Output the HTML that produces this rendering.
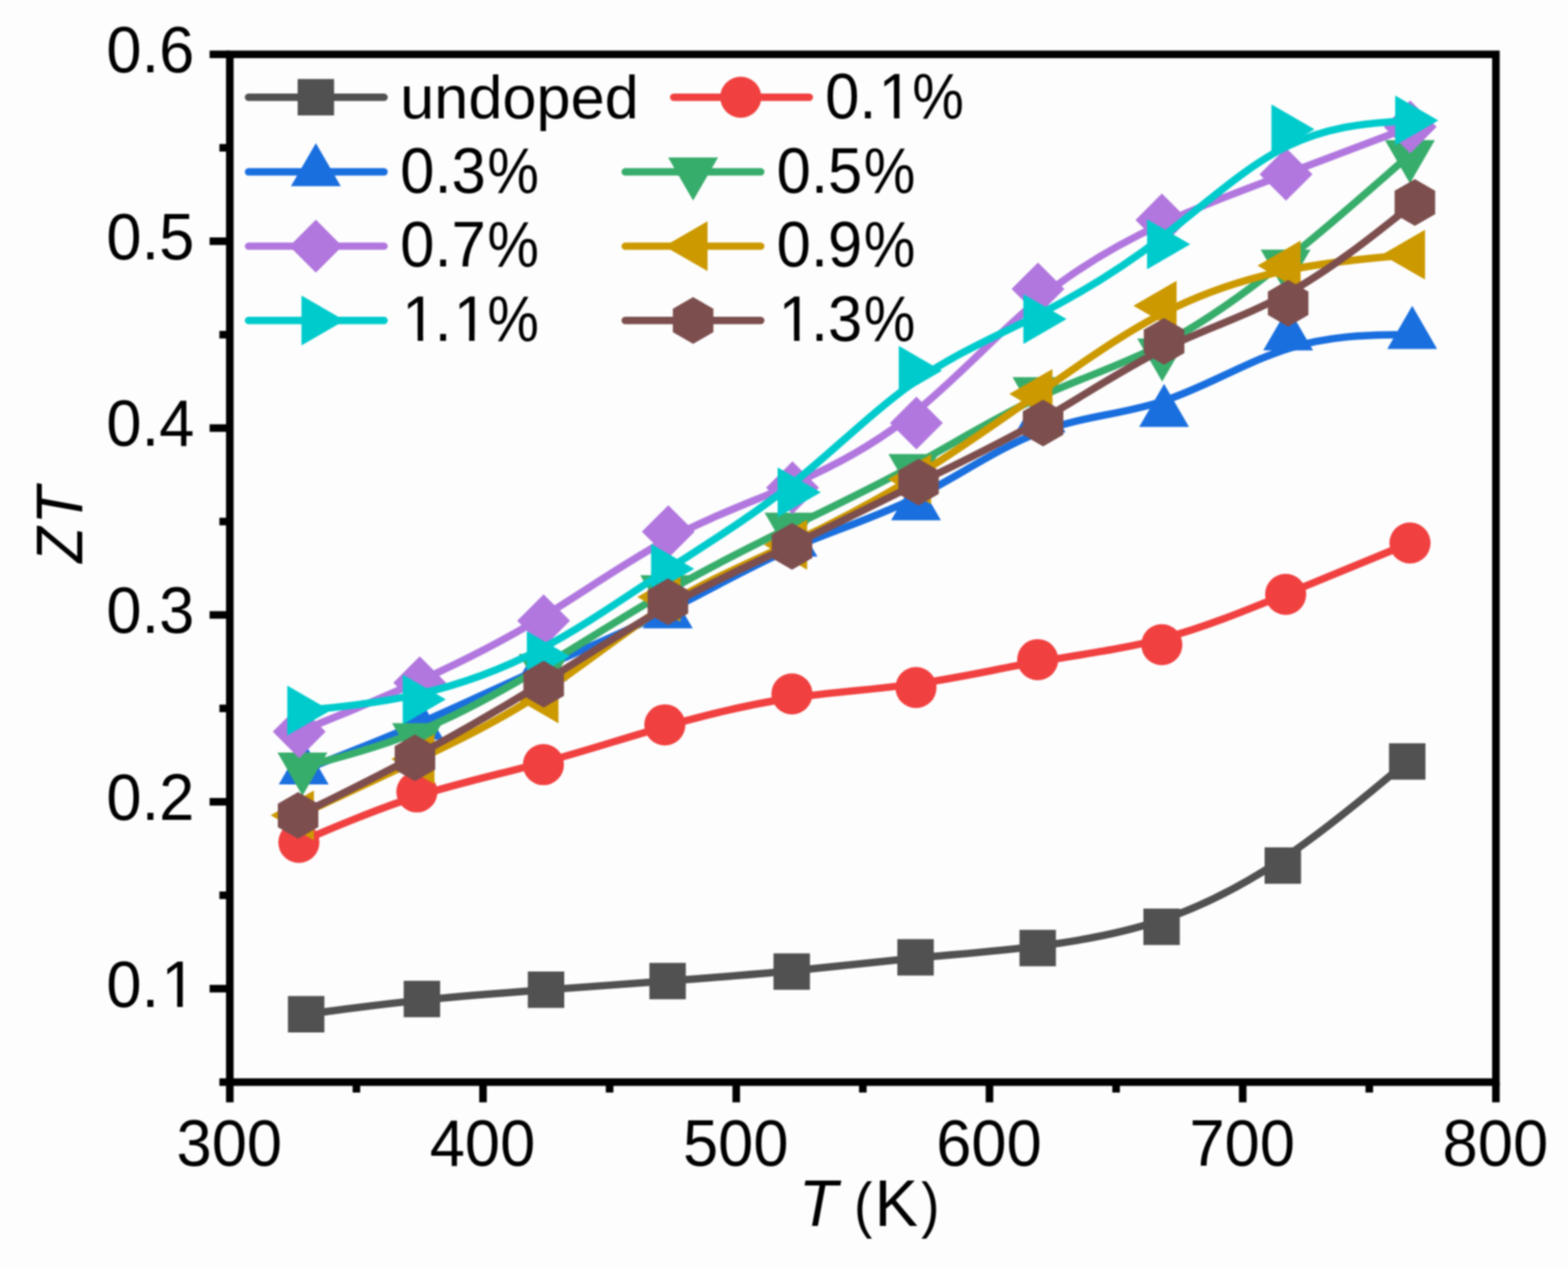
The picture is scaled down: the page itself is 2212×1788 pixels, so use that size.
<!DOCTYPE html>
<html lang="en">
<head>
<meta charset="utf-8">
<title>ZT versus T</title>
<style>
html,body{margin:0;padding:0;background:#fdfdfd;}
body{width:2212px;height:1788px;overflow:hidden;}
svg{display:block;filter:blur(0.8px);}
</style>
</head>
<body>
<svg xmlns="http://www.w3.org/2000/svg" width="2212" height="1788" viewBox="0 0 2212 1788">
<rect width="2212" height="1788" fill="#fdfdfd"/>
<g id="plot" fill="none" stroke-linecap="round" stroke-linejoin="round">
<g id="s-grey">
<path d="M431.90,1431.30C431.90,1431.30 431.90,1431.30 459.12,1427.72C486.33,1424.13 540.77,1416.97 597.17,1411.20C653.57,1405.43 711.93,1401.07 769.70,1396.85C827.47,1392.63 884.63,1388.57 942.40,1384.30C1000.17,1380.03 1058.53,1375.57 1116.83,1369.98C1175.13,1364.40 1233.37,1357.70 1291.20,1352.17C1349.03,1346.63 1406.47,1342.27 1464.32,1335.08C1522.17,1327.90 1580.43,1317.90 1638.07,1298.50C1695.70,1279.10 1752.70,1250.30 1810.45,1211.42C1868.20,1172.53 1926.70,1123.57 1955.95,1099.08C1985.20,1074.60 1985.20,1074.60 1985.20,1074.60" stroke="#515151" stroke-width="10.4"/>
<rect x="406.2" y="1405.6" width="51.4" height="51.4" fill="#515151"/>
<rect x="569.5" y="1384.1" width="51.4" height="51.4" fill="#515151"/>
<rect x="744.6" y="1371" width="51.4" height="51.4" fill="#515151"/>
<rect x="916.1" y="1358.8" width="51.4" height="51.4" fill="#515151"/>
<rect x="1091.2" y="1345.4" width="51.4" height="51.4" fill="#515151"/>
<rect x="1265.9" y="1325.3" width="51.4" height="51.4" fill="#515151"/>
<rect x="1438.2" y="1312.2" width="51.4" height="51.4" fill="#515151"/>
<rect x="1613" y="1282.2" width="51.4" height="51.4" fill="#515151"/>
<rect x="1784" y="1195.8" width="51.4" height="51.4" fill="#515151"/>
<rect x="1959.5" y="1048.9" width="51.4" height="51.4" fill="#515151"/>
</g>
<g id="s-red">
<path d="M421.60,1188.80C421.60,1188.80 421.60,1188.80 449.35,1176.93C477.10,1165.07 532.60,1141.33 590.10,1123.05C647.60,1104.77 707.10,1091.93 765.40,1076.15C823.70,1060.37 880.80,1041.63 939.23,1024.98C997.67,1008.33 1057.43,993.77 1116.48,985.00C1175.53,976.23 1233.87,973.27 1291.65,965.22C1349.43,957.17 1406.67,944.03 1464.47,933.95C1522.27,923.87 1580.63,916.83 1638.93,901.47C1697.23,886.10 1755.47,862.40 1813.82,838.48C1872.17,814.57 1930.63,790.43 1959.87,778.37C1989.10,766.30 1989.10,766.30 1989.10,766.30" stroke="#F14040" stroke-width="10.4"/>
<circle cx="421.6" cy="1188.8" r="29" fill="#F14040"/>
<circle cx="588.1" cy="1117.6" r="29" fill="#F14040"/>
<circle cx="766.6" cy="1079.1" r="29" fill="#F14040"/>
<circle cx="937.9" cy="1022.9" r="29" fill="#F14040"/>
<circle cx="1117.2" cy="979.2" r="29" fill="#F14040"/>
<circle cx="1292.2" cy="970.3" r="29" fill="#F14040"/>
<circle cx="1463.9" cy="930.9" r="29" fill="#F14040"/>
<circle cx="1639" cy="909.8" r="29" fill="#F14040"/>
<circle cx="1813.7" cy="838.7" r="29" fill="#F14040"/>
<circle cx="1989.1" cy="766.3" r="29" fill="#F14040"/>
</g>
<g id="s-blue">
<path d="M428.40,1086.60C428.40,1086.60 428.40,1086.60 455.43,1076.08C482.47,1065.57 536.53,1044.53 592.68,1020.17C648.83,995.80 707.07,968.10 765.65,941.93C824.23,915.77 883.17,891.13 941.95,861.93C1000.73,832.73 1059.37,798.97 1117.72,773.55C1176.07,748.13 1234.13,731.07 1292.47,701.87C1350.80,672.67 1409.40,631.33 1467.73,609.38C1526.07,587.43 1584.13,584.87 1642.33,565.58C1700.53,546.30 1758.87,510.30 1817.20,491.93C1875.53,473.57 1933.87,472.83 1963.03,472.47C1992.20,472.10 1992.20,472.10 1992.20,472.10" stroke="#1A6FDF" stroke-width="10.4"/>
<polygon points="428.4,1046 463.6,1106.9 393.2,1106.9" fill="#1A6FDF"/>
<polygon points="590.6,982.9 625.8,1043.8 555.4,1043.8" fill="#1A6FDF"/>
<polygon points="765.3,899.8 800.5,960.7 730.1,960.7" fill="#1A6FDF"/>
<polygon points="942.1,825.9 977.3,886.8 906.9,886.8" fill="#1A6FDF"/>
<polygon points="1118,724.6 1153.2,785.5 1082.8,785.5" fill="#1A6FDF"/>
<polygon points="1292.2,673.4 1327.4,734.3 1257,734.3" fill="#1A6FDF"/>
<polygon points="1468,549.4 1503.2,610.3 1432.8,610.3" fill="#1A6FDF"/>
<polygon points="1642.2,541.7 1677.4,602.6 1607,602.6" fill="#1A6FDF"/>
<polygon points="1817.2,433.7 1852.4,494.6 1782,494.6" fill="#1A6FDF"/>
<polygon points="1992.2,431.5 2027.4,492.4 1957,492.4" fill="#1A6FDF"/>
</g>
<g id="s-green">
<path d="M426.70,1082.30C426.70,1082.30 426.70,1082.30 453.63,1075.40C480.57,1068.50 534.43,1054.70 591.15,1031.48C647.87,1008.27 707.43,975.63 765.78,940.82C824.13,906.00 881.27,869.00 939.07,835.80C996.87,802.60 1055.33,773.20 1113.68,744.70C1172.03,716.20 1230.27,688.60 1288.57,656.72C1346.87,624.83 1405.23,588.67 1463.73,561.50C1522.23,534.33 1580.87,516.17 1639.20,486.17C1697.53,456.17 1755.57,414.33 1813.82,367.68C1872.07,321.03 1930.53,269.57 1959.77,243.83C1989.00,218.10 1989.00,218.10 1989.00,218.10" stroke="#37AD6B" stroke-width="10.4"/>
<polygon points="426.7,1122.9 391.5,1062 461.9,1062" fill="#37AD6B"/>
<polygon points="588.3,1081.5 553.1,1020.6 623.5,1020.6" fill="#37AD6B"/>
<polygon points="767,983.6 731.8,922.7 802.2,922.7" fill="#37AD6B"/>
<polygon points="938.4,872.6 903.2,811.7 973.6,811.7" fill="#37AD6B"/>
<polygon points="1113.8,784.4 1078.6,723.5 1149,723.5" fill="#37AD6B"/>
<polygon points="1288.5,701.6 1253.3,640.7 1323.7,640.7" fill="#37AD6B"/>
<polygon points="1463.6,593.1 1428.4,532.2 1498.8,532.2" fill="#37AD6B"/>
<polygon points="1639.5,538.6 1604.3,477.7 1674.7,477.7" fill="#37AD6B"/>
<polygon points="1813.6,413.1 1778.4,352.2 1848.8,352.2" fill="#37AD6B"/>
<polygon points="1989,258.7 1953.8,197.8 2024.2,197.8" fill="#37AD6B"/>
</g>
<g id="s-purple">
<path d="M422.10,1032.60C422.10,1032.60 422.10,1032.60 450.43,1021.08C478.77,1009.57 535.43,986.53 592.90,960.45C650.37,934.37 708.63,905.23 767.08,869.68C825.53,834.13 884.17,792.17 942.68,760.87C1001.20,729.57 1059.60,708.93 1117.93,683.40C1176.27,657.87 1234.53,627.43 1292.25,580.67C1349.97,533.90 1407.13,470.80 1464.85,423.03C1522.57,375.27 1580.83,342.83 1639.15,315.88C1697.47,288.93 1755.83,267.47 1814.22,245.58C1872.60,223.70 1931.00,201.40 1960.20,190.25C1989.40,179.10 1989.40,179.10 1989.40,179.10" stroke="#B177DE" stroke-width="10.4"/>
<polygon points="422.1,995.3 459.4,1032.6 422.1,1069.9 384.8,1032.6" fill="#B177DE"/>
<polygon points="592.1,926.2 629.4,963.5 592.1,1000.8 554.8,963.5" fill="#B177DE"/>
<polygon points="766.9,838.8 804.2,876.1 766.9,913.4 729.6,876.1" fill="#B177DE"/>
<polygon points="942.8,712.9 980.1,750.2 942.8,787.5 905.5,750.2" fill="#B177DE"/>
<polygon points="1118,651 1155.3,688.3 1118,725.6 1080.7,688.3" fill="#B177DE"/>
<polygon points="1292.8,559.7 1330.1,597 1292.8,634.3 1255.5,597" fill="#B177DE"/>
<polygon points="1464.3,370.4 1501.6,407.7 1464.3,445 1427,407.7" fill="#B177DE"/>
<polygon points="1639.1,273.1 1676.4,310.4 1639.1,347.7 1601.8,310.4" fill="#B177DE"/>
<polygon points="1814.2,208.7 1851.5,246 1814.2,283.3 1776.9,246" fill="#B177DE"/>
<polygon points="1989.4,141.8 2026.7,179.1 1989.4,216.4 1952.1,179.1" fill="#B177DE"/>
</g>
<g id="s-gold">
<path d="M422.50,1150.60C422.50,1150.60 422.50,1150.60 450.85,1137.38C479.20,1124.17 535.90,1097.73 593.40,1070.22C650.90,1042.70 709.20,1014.10 767.03,975.95C824.87,937.80 882.23,890.10 940.70,853.97C999.17,817.83 1058.73,793.27 1117.67,765.57C1176.60,737.87 1234.90,707.03 1292.58,671.58C1350.27,636.13 1407.33,596.07 1465.05,555.27C1522.77,514.47 1581.13,472.93 1639.48,442.73C1697.83,412.53 1756.17,393.67 1814.58,381.67C1873.00,369.67 1931.50,364.53 1960.75,361.97C1990.00,359.40 1990.00,359.40 1990.00,359.40" stroke="#CC9900" stroke-width="10.4"/>
<polygon points="381.9,1150.6 442.8,1115.4 442.8,1185.8" fill="#CC9900"/>
<polygon points="552,1071.3 612.9,1036.1 612.9,1106.5" fill="#CC9900"/>
<polygon points="726.9,985.5 787.8,950.3 787.8,1020.7" fill="#CC9900"/>
<polygon points="899,842.4 959.9,807.2 959.9,877.6" fill="#CC9900"/>
<polygon points="1077.7,768.7 1138.6,733.5 1138.6,803.9" fill="#CC9900"/>
<polygon points="1252.6,676.2 1313.5,641 1313.5,711.4" fill="#CC9900"/>
<polygon points="1423.8,556 1484.7,520.8 1484.7,591.2" fill="#CC9900"/>
<polygon points="1598.9,431.4 1659.8,396.2 1659.8,466.6" fill="#CC9900"/>
<polygon points="1773.9,374.8 1834.8,339.6 1834.8,410" fill="#CC9900"/>
<polygon points="1949.4,359.4 2010.3,324.2 2010.3,394.6" fill="#CC9900"/>
</g>
<g id="s-cyan">
<path d="M425.60,1002.70C425.60,1002.70 425.60,1002.70 452.73,1000.10C479.87,997.50 534.13,992.30 590.45,979.52C646.77,966.73 705.13,946.37 763.53,915.63C821.93,884.90 880.37,843.80 939.33,805.25C998.30,766.70 1057.80,730.70 1116.03,684.13C1174.27,637.57 1231.23,580.43 1289.02,539.70C1346.80,498.97 1405.40,474.63 1463.78,444.87C1522.17,415.10 1580.33,379.90 1638.65,335.27C1696.97,290.63 1755.43,236.57 1813.77,207.45C1872.10,178.33 1930.30,174.17 1959.40,172.08C1988.50,170.00 1988.50,170.00 1988.50,170.00" stroke="#00CBCC" stroke-width="10.4"/>
<polygon points="466.2,1002.7 405.3,1037.9 405.3,967.5" fill="#00CBCC"/>
<polygon points="629,987.1 568.1,1022.3 568.1,951.9" fill="#00CBCC"/>
<polygon points="804.1,926 743.2,961.2 743.2,890.8" fill="#00CBCC"/>
<polygon points="979.4,802.7 918.5,837.9 918.5,767.5" fill="#00CBCC"/>
<polygon points="1157.9,694.7 1097,729.9 1097,659.5" fill="#00CBCC"/>
<polygon points="1328.8,523.3 1267.9,558.5 1267.9,488.1" fill="#00CBCC"/>
<polygon points="1504.6,450.3 1443.7,485.5 1443.7,415.1" fill="#00CBCC"/>
<polygon points="1679.1,344.7 1618.2,379.9 1618.2,309.5" fill="#00CBCC"/>
<polygon points="1854.5,182.5 1793.6,217.7 1793.6,147.3" fill="#00CBCC"/>
<polygon points="2029.1,170 1968.2,205.2 1968.2,134.8" fill="#00CBCC"/>
</g>
<g id="s-brown">
<path d="M420.50,1150.80C420.50,1150.80 420.50,1150.80 447.98,1137.25C475.47,1123.70 530.43,1096.60 588.18,1065.72C645.93,1034.83 706.47,1000.17 765.93,963.45C825.40,926.73 883.80,887.97 942.18,855.53C1000.57,823.10 1058.93,797.00 1117.87,768.90C1176.80,740.80 1236.30,710.70 1295.33,681.70C1354.37,652.70 1412.93,624.80 1470.67,591.65C1528.40,558.50 1585.30,520.10 1642.92,491.95C1700.53,463.80 1758.87,445.90 1817.83,413.23C1876.80,380.57 1936.40,333.13 1966.20,309.42C1996.00,285.70 1996.00,285.70 1996.00,285.70" stroke="#7D4E4E" stroke-width="10.4"/>
<polygon points="420.5,1117.8 449.1,1134.3 449.1,1167.3 420.5,1183.8 391.9,1167.3 391.9,1134.3" fill="#7D4E4E"/>
<polygon points="585.4,1036.5 614,1053 614,1086 585.4,1102.5 556.8,1086 556.8,1053" fill="#7D4E4E"/>
<polygon points="767,932.5 795.6,949 795.6,982 767,998.5 738.4,982 738.4,949" fill="#7D4E4E"/>
<polygon points="942.2,816.2 970.8,832.7 970.8,865.7 942.2,882.2 913.6,865.7 913.6,832.7" fill="#7D4E4E"/>
<polygon points="1117.3,737.9 1145.9,754.4 1145.9,787.4 1117.3,803.9 1088.7,787.4 1088.7,754.4" fill="#7D4E4E"/>
<polygon points="1295.8,647.6 1324.4,664.1 1324.4,697.1 1295.8,713.6 1267.2,697.1 1267.2,664.1" fill="#7D4E4E"/>
<polygon points="1471.5,563.9 1500.1,580.4 1500.1,613.4 1471.5,629.9 1442.9,613.4 1442.9,580.4" fill="#7D4E4E"/>
<polygon points="1642.2,448.7 1670.8,465.2 1670.8,498.2 1642.2,514.7 1613.6,498.2 1613.6,465.2" fill="#7D4E4E"/>
<polygon points="1817.2,395 1845.8,411.5 1845.8,444.5 1817.2,461 1788.6,444.5 1788.6,411.5" fill="#7D4E4E"/>
<polygon points="1996,252.7 2024.6,269.2 2024.6,302.2 1996,318.7 1967.4,302.2 1967.4,269.2" fill="#7D4E4E"/>
</g>
</g>
<g id="axes" stroke="#000" stroke-width="10.7" fill="none" stroke-linecap="butt">
<rect x="324.2" y="76.7" width="1786.1" height="1450.4"/>
<path d="M309.5,1527.1 H324.2"/>
<path d="M295.7,1395.2 H324.2"/>
<path d="M309.5,1263.4 H324.2"/>
<path d="M295.7,1131.5 H324.2"/>
<path d="M309.5,999.7 H324.2"/>
<path d="M295.7,867.8 H324.2"/>
<path d="M309.5,736 H324.2"/>
<path d="M295.7,604.1 H324.2"/>
<path d="M309.5,472.3 H324.2"/>
<path d="M295.7,340.4 H324.2"/>
<path d="M309.5,208.6 H324.2"/>
<path d="M295.7,76.7 H324.2"/>
<path d="M324.2,1527.1 V1555.6"/>
<path d="M502.8,1527.1 V1541.8"/>
<path d="M681.4,1527.1 V1555.6"/>
<path d="M860,1527.1 V1541.8"/>
<path d="M1038.6,1527.1 V1555.6"/>
<path d="M1217.2,1527.1 V1541.8"/>
<path d="M1395.9,1527.1 V1555.6"/>
<path d="M1574.5,1527.1 V1541.8"/>
<path d="M1753.1,1527.1 V1555.6"/>
<path d="M1931.7,1527.1 V1541.8"/>
<path d="M2110.3,1527.1 V1555.6"/>
</g>
<g id="labels" font-family='"Liberation Sans", sans-serif' font-size="89.3" fill="#000">
<text transform="translate(150.1 1420.5) scale(1.0000 1.0450)">0.</text>
<text transform="translate(227.5 1420.5) scale(1.0000 1.0400)">1</text>
<rect x="232.47" y="1412.61" width="17.44" height="9.44" fill="#fdfdfd"/>
<rect x="257.81" y="1412.61" width="16.74" height="9.44" fill="#fdfdfd"/>
<text transform="translate(150.1 1156.8) scale(1.0000 1.0450)">0.2</text>
<text transform="translate(150.1 893.1) scale(1.0000 1.0450)">0.3</text>
<text transform="translate(150.1 629.4) scale(1.0000 1.0450)">0.4</text>
<text transform="translate(150.1 365.7) scale(1.0000 1.0450)">0.5</text>
<text transform="translate(150.1 102) scale(1.0000 1.0450)">0.6</text>
<text transform="translate(249 1644.7) scale(1.0000 1.0450)">300</text>
<text transform="translate(606.2 1644.7) scale(1.0000 1.0450)">400</text>
<text transform="translate(963.4 1644.7) scale(1.0000 1.0450)">500</text>
<text transform="translate(1320.7 1644.7) scale(1.0000 1.0450)">600</text>
<text transform="translate(1677.9 1644.7) scale(1.0000 1.0450)">700</text>
<text transform="translate(2035.1 1644.7) scale(1.0000 1.0450)">800</text>
<text transform="translate(1127 1729.5) scale(1.0000 1.0400)" font-style="italic">T</text>
<text transform="translate(1204.7 1729.5) scale(0.8700 0.9680)">(</text>
<text transform="translate(1233.8 1729.5) scale(1.0300 1.0400)">K</text>
<text transform="translate(1299.6 1729.5) scale(0.8700 0.9680)">)</text>
<text transform="translate(115.7 794.2) rotate(-90) scale(0.9230 1.0400)" font-style="italic">Z</text>
<text transform="translate(115.7 740) rotate(-90) scale(0.9730 1.0400)" font-style="italic">T</text>
</g>
<g id="legend" font-family='"Liberation Sans", sans-serif' font-size="87" fill="#000" stroke-linecap="round">
<path d="M350.6,137.2 H541.8" stroke="#515151" stroke-width="10.4" fill="none"/>
<rect x="419.9" y="111.5" width="51.4" height="51.4" fill="#515151"/>
<text transform="translate(564.5 166.8) scale(0.9940 0.9850)">undoped</text>
<path d="M350.6,242.5 H541.8" stroke="#1A6FDF" stroke-width="10.4" fill="none"/>
<polygon points="445.6,201.9 480.8,262.8 410.4,262.8" fill="#1A6FDF"/>
<text transform="translate(564.5 271.9) scale(1.0000 1.0450)">0.3</text>
<text transform="translate(687.6 271.9) scale(0.9410 1.0450)">%</text>
<path d="M350.6,347.4 H541.8" stroke="#B177DE" stroke-width="10.4" fill="none"/>
<polygon points="445.6,310.1 482.9,347.4 445.6,384.7 408.3,347.4" fill="#B177DE"/>
<text transform="translate(564.5 376.4) scale(1.0000 1.0450)">0.7</text>
<text transform="translate(687.6 376.4) scale(0.9410 1.0450)">%</text>
<path d="M350.6,452.3 H541.8" stroke="#00CBCC" stroke-width="10.4" fill="none"/>
<polygon points="486.2,452.3 425.3,487.5 425.3,417.1" fill="#00CBCC"/>
<text transform="translate(567.3 480.9) scale(1.0000 1.0400)">1</text>
<text transform="translate(612.9 480.9) scale(1.0000 1.0450)">.</text>
<text transform="translate(639.9 480.9) scale(1.0000 1.0400)">1</text>
<text transform="translate(687.6 480.9) scale(0.9410 1.0450)">%</text>
<rect x="572.23" y="473.14" width="16.99" height="9.26" fill="#fdfdfd"/>
<rect x="596.91" y="473.14" width="16.31" height="9.26" fill="#fdfdfd"/>
<rect x="644.79" y="473.14" width="16.99" height="9.26" fill="#fdfdfd"/>
<rect x="669.47" y="473.14" width="16.31" height="9.26" fill="#fdfdfd"/>
<path d="M950.4,137.2 H1141.7" stroke="#F14040" stroke-width="10.4" fill="none"/>
<circle cx="1045" cy="137.2" r="29" fill="#F14040"/>
<text transform="translate(1163.9 167.4) scale(1.0000 1.0450)">0.</text>
<text transform="translate(1239.3 167.4) scale(1.0000 1.0400)">1</text>
<text transform="translate(1287 167.4) scale(0.9410 1.0450)">%</text>
<rect x="1244.19" y="159.64" width="16.99" height="9.26" fill="#fdfdfd"/>
<rect x="1268.87" y="159.64" width="16.31" height="9.26" fill="#fdfdfd"/>
<path d="M882,242.5 H1073.2" stroke="#37AD6B" stroke-width="10.4" fill="none"/>
<polygon points="977.8,283.1 942.6,222.2 1013,222.2" fill="#37AD6B"/>
<text transform="translate(1095.5 271.9) scale(1.0000 1.0450)">0.5</text>
<text transform="translate(1218.6 271.9) scale(0.9410 1.0450)">%</text>
<path d="M882,347.4 H1073.2" stroke="#CC9900" stroke-width="10.4" fill="none"/>
<polygon points="937.2,347.4 998.1,312.2 998.1,382.6" fill="#CC9900"/>
<text transform="translate(1095.5 376.4) scale(1.0000 1.0450)">0.9</text>
<text transform="translate(1218.6 376.4) scale(0.9410 1.0450)">%</text>
<path d="M882,452.3 H1073.2" stroke="#7D4E4E" stroke-width="10.4" fill="none"/>
<polygon points="977.8,419.3 1006.4,435.8 1006.4,468.8 977.8,485.3 949.2,468.8 949.2,435.8" fill="#7D4E4E"/>
<text transform="translate(1098.3 480.9) scale(1.0000 1.0400)">1</text>
<text transform="translate(1143.9 480.9) scale(1.0000 1.0450)">.3</text>
<text transform="translate(1218.6 480.9) scale(0.9410 1.0450)">%</text>
<rect x="1103.23" y="473.14" width="16.99" height="9.26" fill="#fdfdfd"/>
<rect x="1127.91" y="473.14" width="16.31" height="9.26" fill="#fdfdfd"/>
</g>
</svg>
</body>
</html>
